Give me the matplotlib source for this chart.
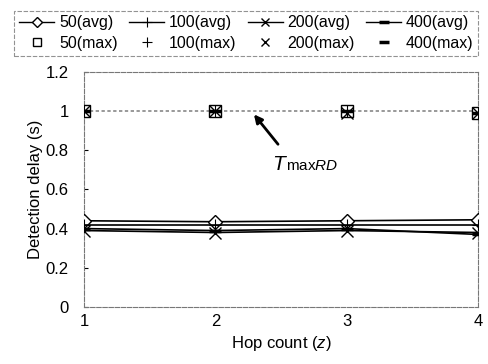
import matplotlib
matplotlib.use("Agg")
import matplotlib.pyplot as plt
from matplotlib.lines import Line2D

plt.rcParams['font.family'] = ['Liberation Sans', 'DejaVu Sans']
plt.rcParams['mathtext.fontset'] = 'custom'
plt.rcParams['mathtext.rm'] = 'Liberation Sans'
plt.rcParams['mathtext.it'] = 'Liberation Sans:italic'

hops = [1, 2, 3, 4]
avg_50 = [0.44, 0.435, 0.44, 0.445]
avg_100 = [0.42, 0.42, 0.42, 0.42]
avg_200 = [0.39, 0.38, 0.39, 0.38]
avg_400 = [0.40, 0.39, 0.40, 0.37]
max_50 = [1.0, 1.0, 1.0, 0.99]
max_100 = [1.0, 1.0, 1.0, 0.99]
max_200 = [1.0, 1.0, 0.99, 0.99]
max_400 = [1.0, 1.0, 1.0, 0.99]
t_max_rd = 1.0
yticks = [0, 0.2, 0.4, 0.6, 0.8, 1, 1.2]
ytick_labels = ['0', '0.2', '0.4', '0.6', '0.8', '1', '1.2']

FS = 12

fig = plt.figure(figsize=(4.88, 3.64), dpi=100)
ax = fig.add_axes([0.172, 0.157, 0.808, 0.645])

ax.axhline(t_max_rd, color='#888888', lw=1.2, ls=(0, (2, 1.5)), zorder=1)

avg_styles = [
    (avg_50, dict(marker='D', ms=7, mfc='white', mec='black', mew=1.0)),
    (avg_100, dict(marker='+', ms=9, mec='black', mew=0.8)),
    (avg_200, dict(marker='x', ms=8, mec='black', mew=1.0)),
    (avg_400, dict(marker='_', ms=9, mec='black', mew=2.5)),
]
for vals, st in avg_styles:
    ax.plot(hops, vals, color='black', lw=1.2, zorder=3, **st)

max_styles = [
    (max_50, dict(marker='s', ms=8, mfc='white', mec='black', mew=1.0)),
    (max_100, dict(marker='+', ms=9, mec='black', mew=0.8)),
    (max_200, dict(marker='x', ms=8, mec='black', mew=1.0)),
    (max_400, dict(marker='_', ms=9, mec='black', mew=2.5)),
]
for vals, st in max_styles:
    ax.plot(hops, vals, ls='none', zorder=4, **st)

ax.set_xlim(1, 4)
ax.set_ylim(0, 1.2)
ax.set_xticks(hops)
ax.set_yticks(yticks)
ax.set_yticklabels(ytick_labels)
ax.tick_params(axis='y', direction='in', length=3, labelsize=FS, pad=11)
ax.tick_params(axis='x', length=0, labelsize=FS, pad=5)
for sp in ax.spines.values():
    sp.set_color('#777777')
    sp.set_linestyle((0, (4, 1.5)))
    sp.set_linewidth(0.8)

ax.set_xlabel(r'Hop count ($\it{z}$)', fontsize=FS, labelpad=4)
ax.set_ylabel('Detection delay (s)', fontsize=FS, labelpad=2)

ax.annotate('', xy=(2.28, 0.995), xytext=(2.49, 0.82),
            arrowprops=dict(arrowstyle='-|>', color='black', lw=2, mutation_scale=12))
ax.text(2.43, 0.73, r'$T$', fontsize=15, ha='left', va='center')
ax.text(2.54, 0.72, r'max$\it{RD}$', fontsize=11, ha='left', va='center')

handles = []
labels = []
names = ['50', '100', '200', '400']
for (vals, st), n in zip(avg_styles, names):
    handles.append(Line2D([], [], color='black', lw=1.0, **st))
    labels.append(f'{n}(avg)')
for (vals, st), n in zip(max_styles, names):
    handles.append(Line2D([], [], ls='none', **st))
    labels.append(f'{n}(max)')
order = [0, 4, 1, 5, 2, 6, 3, 7]
leg = fig.legend([handles[i] for i in order], [labels[i] for i in order],
                 ncol=4, loc='upper center', bbox_to_anchor=(0.505, 0.975),
                 fontsize=11.5, frameon=True, fancybox=False, handlelength=2.2,
                 handletextpad=0.3, columnspacing=0.7, borderpad=0.3,
                 labelspacing=0.35, markerscale=0.75, borderaxespad=0.1)
leg.get_frame().set_edgecolor('#777777')
leg.get_frame().set_linestyle((0, (4, 1.5)))
leg.get_frame().set_linewidth(0.8)

fig.savefig('out.png', dpi=100)
